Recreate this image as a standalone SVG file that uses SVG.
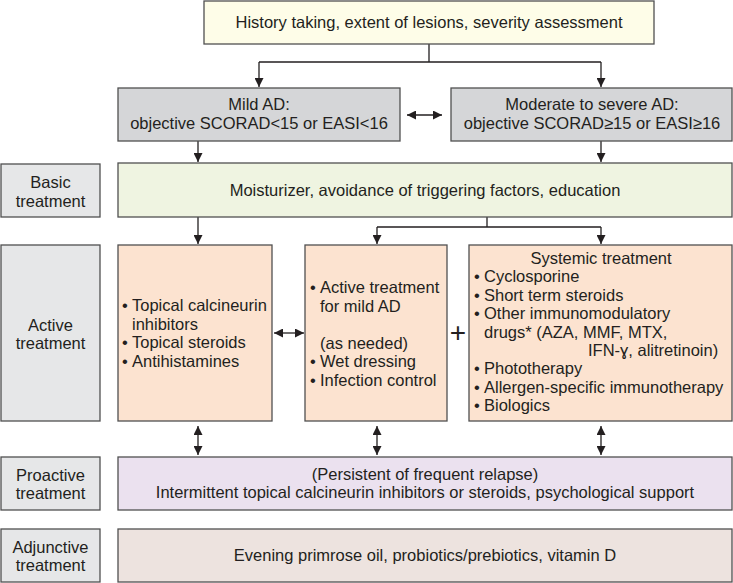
<svg xmlns="http://www.w3.org/2000/svg" width="733" height="583" viewBox="0 0 733 583">
<style>
rect{stroke:#505050;stroke-width:1.3}
text{font-family:"Liberation Sans",Arial,sans-serif;font-size:16.5px;fill:#231f20}
.c{text-anchor:middle}
.ln{fill:none;stroke:#231f20;stroke-width:1.3}
.y{fill:#fefde8}.g{fill:#d5d6d8}.l{fill:#e6e7e8}.gr{fill:#eff4e1}.p{fill:#fce3d0}.v{fill:#ebe1ef}.b{fill:#ede3df}
</style>
<defs>
<marker id="ah" viewBox="0 0 10 10" refX="10" refY="5" markerWidth="9" markerHeight="9" markerUnits="userSpaceOnUse" orient="auto-start-reverse"><path d="M0,0 L10,5 L0,10 z" fill="#231f20"/></marker>
</defs>
<g id="connectors">
<path class="ln" d="M429,44 V62 M259,62 H601"/>
<path class="ln" d="M259,62 V87" marker-end="url(#ah)"/>
<path class="ln" d="M601,62 V87" marker-end="url(#ah)"/>
<path class="ln" d="M407,115 H442" marker-start="url(#ah)" marker-end="url(#ah)"/>
<path class="ln" d="M198,141 V162" marker-end="url(#ah)"/>
<path class="ln" d="M601,141 V162" marker-end="url(#ah)"/>
<path class="ln" d="M198,217 V244" marker-end="url(#ah)"/>
<path class="ln" d="M487,217 V227 M377,227 H601"/>
<path class="ln" d="M377,227 V244" marker-end="url(#ah)"/>
<path class="ln" d="M601,227 V244" marker-end="url(#ah)"/>
<path class="ln" d="M274,333 H304" marker-start="url(#ah)" marker-end="url(#ah)"/>
<path class="ln" d="M198,426 V455" marker-start="url(#ah)" marker-end="url(#ah)"/>
<path class="ln" d="M377,426 V455" marker-start="url(#ah)" marker-end="url(#ah)"/>
<path class="ln" d="M601,426 V455" marker-start="url(#ah)" marker-end="url(#ah)"/>
</g>
<g id="history">
<rect class="y" x="204" y="1" width="450" height="43"/>
<text class="c" x="429" y="28">History taking, extent of lesions, severity assessment</text>
</g>
<g id="mild">
<rect class="g" x="118" y="88" width="282" height="53"/>
<text class="c" x="259" y="110">Mild AD:</text>
<text class="c" x="259" y="129">objective SCORAD&lt;15 or EASI&lt;16</text>
</g>
<g id="moderate">
<rect class="g" x="451" y="88" width="281" height="53"/>
<text class="c" x="592" y="110">Moderate to severe AD:</text>
<text class="c" x="592" y="129">objective SCORAD≥15 or EASI≥16</text>
</g>
<g id="basic-label">
<rect class="l" x="1" y="164" width="99" height="53"/>
<text class="c" x="50.5" y="188">Basic</text>
<text class="c" x="50.5" y="207">treatment</text>
</g>
<g id="basic">
<rect class="gr" x="118" y="163" width="614" height="54"/>
<text class="c" x="425" y="196">Moisturizer, avoidance of triggering factors, education</text>
</g>
<g id="active-label">
<rect class="l" x="1" y="245" width="99" height="176"/>
<text class="c" x="50.5" y="331">Active</text>
<text class="c" x="50.5" y="349">treatment</text>
</g>
<g id="topical">
<rect class="p" x="118" y="245" width="154" height="176"/>
<text x="122" y="311">•</text><text x="132" y="311">Topical calcineurin</text>
<text x="132" y="329.5">inhibitors</text>
<text x="122" y="348">•</text><text x="132" y="348">Topical steroids</text>
<text x="122" y="366.5">•</text><text x="132" y="366.5">Antihistamines</text>
</g>
<g id="mild-active">
<rect class="p" x="305" y="245" width="142" height="176"/>
<text x="310" y="293">•</text><text x="320" y="293">Active treatment</text>
<text x="320" y="311.5">for mild AD</text>
<text x="320" y="348.5">(as needed)</text>
<text x="310" y="367">•</text><text x="320" y="367">Wet dressing</text>
<text x="310" y="385.5">•</text><text x="320" y="385.5">Infection control</text>
</g>
<g id="plus">
<text class="c" x="458" y="342" style="font-size:28px">+</text>
</g>
<g id="systemic">
<rect class="p" x="469" y="245" width="263" height="176"/>
<text class="c" x="601" y="264">Systemic treatment</text>
<text x="474" y="282.4">•</text><text x="484" y="282.4">Cyclosporine</text>
<text x="474" y="300.8">•</text><text x="484" y="300.8">Short term steroids</text>
<text x="474" y="319.2">•</text><text x="484" y="319.2">Other immunomodulatory</text>
<text x="484" y="337.6">drugs* (AZA, MMF, MTX,</text>
<text x="588" y="356">IFN-ɣ, alitretinoin)</text>
<text x="474" y="374.4">•</text><text x="484" y="374.4">Phototherapy</text>
<text x="474" y="392.8">•</text><text x="484" y="392.8">Allergen-specific immunotherapy</text>
<text x="474" y="411.2">•</text><text x="484" y="411.2">Biologics</text>
</g>
<g id="proactive-label">
<rect class="l" x="1" y="457" width="99" height="53"/>
<text class="c" x="50.5" y="481">Proactive</text>
<text class="c" x="50.5" y="499">treatment</text>
</g>
<g id="proactive">
<rect class="v" x="118" y="457" width="614" height="53"/>
<text class="c" x="425" y="480">(Persistent of frequent relapse)</text>
<text class="c" x="425" y="498">Intermittent topical calcineurin inhibitors or steroids, psychological support</text>
</g>
<g id="adjunctive-label">
<rect class="l" x="1" y="529" width="99" height="53"/>
<text class="c" x="50.5" y="553">Adjunctive</text>
<text class="c" x="50.5" y="571">treatment</text>
</g>
<g id="adjunctive">
<rect class="b" x="118" y="529" width="614" height="53"/>
<text class="c" x="425" y="561">Evening primrose oil, probiotics/prebiotics, vitamin D</text>
</g>
</svg>
